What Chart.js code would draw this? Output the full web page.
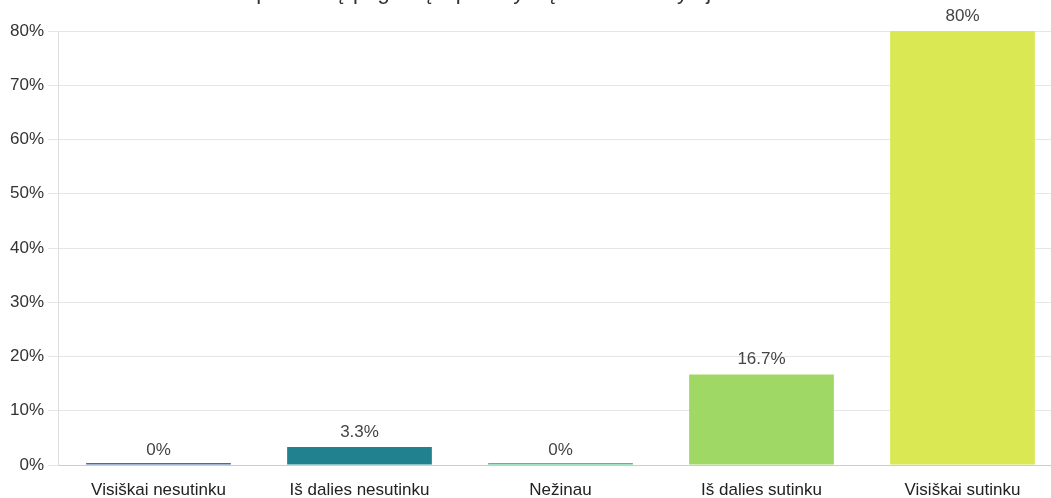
<!DOCTYPE html>
<html>
<head>
<meta charset="utf-8">
<script src="https://cdn.jsdelivr.net/npm/chart.js@4.4.0/dist/chart.umd.min.js"></script>
<style>
html,body{margin:0;padding:0;background:#fff;overflow:hidden;width:1051px;height:498px;}
#wrap{position:absolute;left:0;top:-50px;width:1063px;height:548px;}
</style>
</head>
<body>
<div id="wrap"><canvas id="c" width="1063" height="548"></canvas></div>
<script>
const titleLines = ["Praktikos metu gavau reikiamą", "profesinę pagalbą ir palaikymą iš savo dėstytojo vadovo."];
const categories = ["Visiškai nesutinku", "Iš dalies nesutinku", "Nežinau", "Iš dalies sutinku", "Visiškai sutinku"];
const values = [0, 3.3, 0, 16.7, 80];
const valueLabels = ["0%", "3.3%", "0%", "16.7%", "80%"];
const yTicks = [0, 10, 20, 30, 40, 50, 60, 70, 80];
const barColors = ["#4a6aa5", "#22818f", "#45c683", "#9fd864", "#dae853"];

const FONT = "'Liberation Sans', Arial, sans-serif";

const labelPlugin = {
  id: 'valueLabels',
  afterDatasetsDraw(chart) {
    const ctx = chart.ctx;
    const meta = chart.getDatasetMeta(0);
    ctx.save();
    ctx.font = "17px " + FONT;
    ctx.fillStyle = "#444";
    ctx.textAlign = "center";
    ctx.textBaseline = "middle";
    meta.data.forEach((bar, i) => {
      const yTop = chart.scales.y.getPixelForValue(values[i]);
      ctx.fillText(valueLabels[i], bar.x, yTop - 15);
    });
    ctx.restore();
  }
};

new Chart(document.getElementById('c'), {
  type: 'bar',
  data: {
    labels: categories,
    datasets: [{
      data: values,
      backgroundColor: barColors,
      borderWidth: 0,
      minBarLength: 2,
      barPercentage: 0.72,
      categoryPercentage: 1
    }]
  },
  options: {
    responsive: false,
    animation: false,
    devicePixelRatio: 1,
    layout: { padding: { left: 0, right: 0, top: 0, bottom: 0 } },
    plugins: {
      legend: { display: false },
      tooltip: { enabled: false },
      title: {
        display: true,
        text: titleLines,
        color: "#333",
        font: { family: FONT, size: 22, weight: 'normal', lineHeight: 1.2 },
        padding: { top: 3.7, bottom: 24.5 }
      }
    },
    scales: {
      x: {
        afterFit: s => { s.height = 33; },
        grid: { display: true, drawOnChartArea: false, drawTicks: false },
        border: { display: true, color: "#cccccc", width: 1 },
        ticks: { color: "#222", font: { family: FONT, size: 17 }, padding: 15, maxRotation: 0, autoSkip: false }
      },
      y: {
        min: 0,
        max: 80,
        afterFit: s => { s.width = 58; },
        afterBuildTicks: s => { s.ticks = yTicks.map(v => ({ value: v })); },
        grid: { color: "#e6e6e6", tickLength: 10, drawTicks: true },
        border: { display: true, color: "#dddddd" },
        ticks: {
          color: "#333",
          padding: 4,
          font: { family: FONT, size: 17 },
          callback: v => v + "%"
        }
      }
    }
  },
  plugins: [labelPlugin]
});
</script>
</body>
</html>
